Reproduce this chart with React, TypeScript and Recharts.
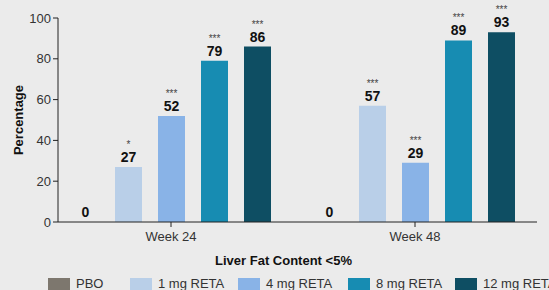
import React from 'react';
import { BarChart, Bar, XAxis, YAxis, LabelList, Label } from 'recharts';

const weeks = ['Week 24', 'Week 48'];
const pbo = [0, 0];
const reta1 = [27, 57];
const reta4 = [52, 29];
const reta8 = [79, 89];
const reta12 = [86, 93];
const stars1 = ['*', '***'];
const stars4 = ['***', '***'];
const stars8 = ['***', '***'];
const stars12 = ['***', '***'];
const yTicks = [0, 20, 40, 60, 80, 100];

const series = [
  { key: 'pbo', name: 'PBO', color: '#7d776e', stars: ['', ''] },
  { key: 'reta1', name: '1 mg RETA', color: '#b9cfe8', stars: stars1 },
  { key: 'reta4', name: '4 mg RETA', color: '#89b3e7', stars: stars4 },
  { key: 'reta8', name: '8 mg RETA', color: '#178cb2', stars: stars8 },
  { key: 'reta12', name: '12 mg RETA', color: '#0e4e63', stars: stars12 },
];

const data = weeks.map((week, i) => ({
  week,
  pbo: pbo[i],
  reta1: reta1[i],
  reta4: reta4[i],
  reta8: reta8[i],
  reta12: reta12[i],
}));

const legendLeft = [48, 130, 238, 348, 455];

const makeLabel = (stars: string[]) => (props: any) => {
  const { x, y, width, height, value, index } = props;
  const cx = x + width / 2;
  // zero-height bars get a tiny min size, so measure from the bottom
  const top = height < 1 ? y + height : y;
  return (
    <g>
      {stars[index] ? (
        <text x={cx} y={top - 19} textAnchor="middle" fontSize={10} fill="#444">
          {stars[index]}
        </text>
      ) : null}
      <text x={cx} y={top - 5} textAnchor="middle" fontSize={14} fontWeight="bold" fill="#111">
        {String(value)}
      </text>
    </g>
  );
};

export default function App() {
  return (
    <div
      style={{
        position: 'absolute',
        left: 0,
        top: 0,
        width: 549,
        height: 290,
        background: '#ebebeb',
        fontFamily: '"Liberation Sans", Arial, sans-serif',
        overflow: 'hidden',
      }}
    >
      <BarChart
        width={549}
        height={290}
        data={data}
        margin={{ top: 18, right: 12, left: 18, bottom: 24 }}
        barSize={27}
        barGap={16}
      >
        <XAxis
          dataKey="week"
          height={44}
          padding={{ left: -9, right: 0 }}
          tickSize={5}
          tickMargin={5}
          stroke="#222"
          tick={{ fill: '#333', fontSize: 13 }}
        >
          <Label
            value="Liver Fat Content <5%"
            position="insideBottom"
            offset={1}
            dx={-14}
            style={{ fontWeight: 'bold', fontSize: 13, fill: '#111' }}
          />
        </XAxis>
        <YAxis
          domain={[0, 100]}
          ticks={yTicks}
          width={40}
          tickSize={5}
          stroke="#222"
          tick={{ fill: '#333', fontSize: 13 }}
        >
          <Label
            value="Percentage"
            angle={-90}
            position="insideLeft"
            offset={0}
            style={{ fontWeight: 'bold', fontSize: 13, fill: '#111', textAnchor: 'middle' }}
          />
        </YAxis>
        {series.map((s) => (
          <Bar
            key={s.key}
            dataKey={s.key}
            name={s.name}
            fill={s.color}
            minPointSize={0.01}
            isAnimationActive={false}
          >
            <LabelList dataKey={s.key} content={makeLabel(s.stars)} />
          </Bar>
        ))}
      </BarChart>
      {series.map((s, i) => (
        <div
          key={s.key}
          style={{
            position: 'absolute',
            left: legendLeft[i],
            top: 276,
            display: 'flex',
            alignItems: 'center',
            whiteSpace: 'nowrap',
            fontSize: 13,
            color: '#333',
          }}
        >
          <span style={{ width: 22, height: 12, background: s.color, marginRight: 6, display: 'inline-block' }} />
          {s.name}
        </div>
      ))}
    </div>
  );
}
